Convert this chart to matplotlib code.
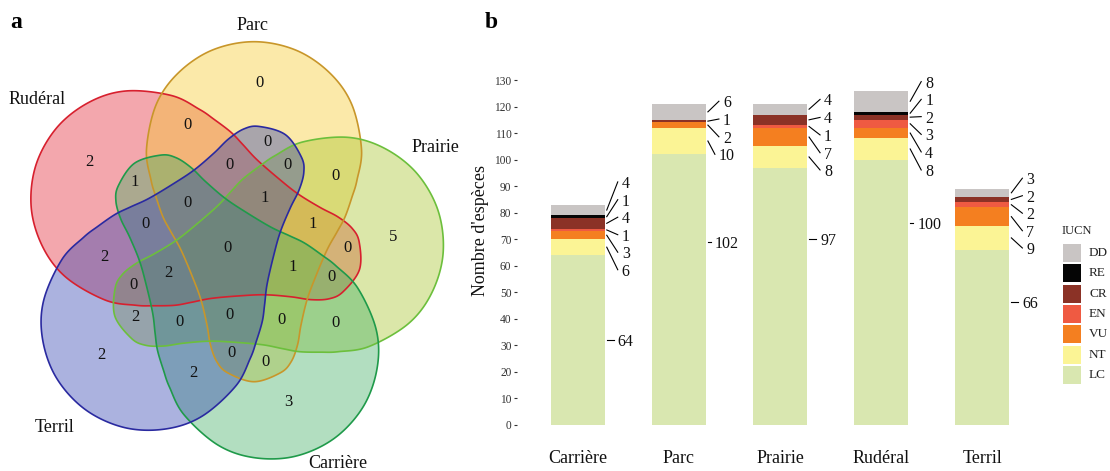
import numpy as np
import matplotlib
matplotlib.use("Agg")
import matplotlib.pyplot as plt
from matplotlib.patches import Polygon, Rectangle

plt.rcParams['font.family'] = ['Liberation Serif', 'DejaVu Serif']

# ---- panneau b : nombre d'especes par statut IUCN ----
sites = ["Carrière", "Parc", "Prairie", "Rudéral", "Terril"]
statuts = ["LC", "NT", "VU", "EN", "CR", "RE", "DD"]   # du bas vers le haut
LC = [64, 102, 97, 100, 66]
NT = [6, 10, 8, 8, 9]
VU = [3, 2, 7, 4, 7]
EN = [1, 0, 1, 3, 2]
CR = [4, 1, 4, 2, 2]
RE = [1, 0, 0, 1, 0]
DD = [4, 6, 4, 8, 3]
valeurs = {"LC": LC, "NT": NT, "VU": VU, "EN": EN, "CR": CR, "RE": RE, "DD": DD}
couleurs = {"LC": "#d9e7b0", "NT": "#fbf495", "VU": "#f47f20", "EN": "#ef5a42",
            "CR": "#8b3226", "RE": "#050505", "DD": "#c9c5c4"}

# hauteur des etiquettes (comme ggrepel), du haut vers le bas
pos_etiquettes = [
    [91.6, 84.9, 78.3, 71.7, 65.1, 58.5, 32],
    [122, 115.3, 108.6, 102, 69],
    [122.7, 115.9, 109.3, 102.6, 96.1, 70],
    [129.4, 122.7, 116.2, 109.5, 102.9, 96.1, 76.2],
    [93, 86.4, 79.8, 73.2, 66.7, 46.5],
]

# ---- panneau a : diagramme de Venn ----
ensembles = ["Parc", "Prairie", "Carrière", "Terril", "Rudéral"]
venn_bord = ["#c8962a", "#6cbf3c", "#1f9a4a", "#2a2aa0", "#d7202e"]
venn_fond = ["#f5c82a", "#a7c52a", "#3fae62", "#2f3fb0", "#e32534"]
venn_n = [0, 0, 2, 0, 0, 0, 1, 0, 0, 1, 0, 1, 0, 2, 0, 5, 2, 1, 0, 0,
          2, 0, 0, 0, 0, 2, 0, 0, 2, 3]
venn_xy = [(259, 83), (188, 125), (89, 162), (267, 142), (230, 165), (287, 165),
           (135, 182), (336, 176), (187, 203), (265, 198), (146, 224), (313, 224),
           (227, 248), (104, 257), (347, 248), (393, 237), (168, 273), (293, 267),
           (133, 285), (331, 277), (135, 317), (180, 322), (230, 315), (281, 320),
           (335, 323), (101, 355), (232, 353), (266, 362), (193, 373), (288, 402)]
noms_xy = [(253, 25), (435, 148), (338, 463), (55, 428), (37, 100)]

# forme de base (Parc), demi-largeur le long de l'axe, en pixels
centre = (229.6, 253.1)
decal = 24.4
profil = [(0, 41.7), (42, 50.2), (76, 73.2), (98, 105), (107.5, 149.2), (103, 180),
          (98, 197), (91, 217), (83, 232), (73, 250), (61.5, 277), (53, 300),
          (47, 325), (43.5, 345), (37, 362), (26, 373), (0, 381.7)]


def catmull(pts, n=24):
    P = np.array(pts, dtype=float)
    N = len(P)
    t = np.linspace(0, 1, n, endpoint=False)[:, None]
    out = []
    for i in range(N):
        p0, p1, p2, p3 = P[i - 1], P[i], P[(i + 1) % N], P[(i + 2) % N]
        out.append(0.5 * (2 * p1 + (-p0 + p2) * t + (2 * p0 - 5 * p1 + 4 * p2 - p3) * t ** 2
                          + (-p0 + 3 * p1 - 3 * p2 + p3) * t ** 3))
    return np.vstack(out)


droite = [(decal + w, y - centre[1]) for w, y in profil]
gauche = [(decal - w, y - centre[1]) for w, y in profil[1:-1]][::-1]
forme = catmull(droite + gauche)


def tourner(k):
    a = np.deg2rad(72 * k)
    x = forme[:, 0] * np.cos(a) - forme[:, 1] * np.sin(a) + centre[0]
    y = forme[:, 0] * np.sin(a) + forme[:, 1] * np.cos(a) + centre[1]
    return np.column_stack([x, y])


fig = plt.figure(figsize=(11.1, 4.71), dpi=100)
W, H = 1110, 471

axv = fig.add_axes([0, 0, 480 / W, 1])
axv.set_xlim(0, 480)
axv.set_ylim(H, 0)
axv.axis("off")

ordre = [4, 0, 1, 2, 3]
for z, k in enumerate(ordre):
    axv.add_patch(Polygon(tourner(k), closed=True, facecolor=venn_fond[k], alpha=0.4,
                          edgecolor="none", zorder=1 + z))
for k in ordre:
    axv.add_patch(Polygon(tourner(k), closed=True, facecolor="none",
                          edgecolor=venn_bord[k], lw=1.2, zorder=10))
for (x, y), n in zip(venn_xy, venn_n):
    axv.text(x, y, str(n), ha="center", va="center", fontsize=12, color="#111111", zorder=11)
for (x, y), nom in zip(noms_xy, ensembles):
    axv.text(x, y, nom, ha="center", va="center", fontsize=13, color="#111111")

# ---- barres empilees ----
left, right, top, bottom = 517, 1043, 20.3, 441.7
ax = fig.add_axes([left / W, (H - bottom) / H, (right - left) / W, (bottom - top) / H])
x = np.arange(1, len(sites) + 1)
larg = 0.535
base = np.zeros(len(sites))
for s in statuts:
    v = np.array(valeurs[s], dtype=float)
    ax.bar(x, v, bottom=base, width=larg, color=couleurs[s], linewidth=0)
    base += v

px = (right - left) / 5.2
for i in range(len(sites)):
    cumul = 0
    segs = []
    for s in statuts:
        v = valeurs[s][i]
        if v > 0:
            segs.append((s, v, cumul + v / 2))
        cumul += v
    segs = segs[::-1]
    bord = x[i] + larg / 2
    xl = bord + 21 / px
    for (s, v, mid), ye in zip(segs, pos_etiquettes[i]):
        txt = str(v)
        y0 = ye if s == "LC" else mid
        x1 = xl - (4 * len(txt) + 4) / px
        ax.plot([bord + 2 / px, x1], [y0, ye], color="black", lw=0.8)
        ax.text(xl, ye, txt, ha="center", va="center_baseline", fontsize=11.5, color="#111111")

ax.set_xlim(0.4, 5.6)
ax.set_ylim(-6.3, 152.5)
ax.set_yticks(range(0, 131, 10))
ax.set_xticks(x)
ax.set_xticklabels(sites, fontsize=13, color="#111111")
ax.tick_params(axis="x", length=0, pad=6)
ax.tick_params(axis="y", length=2.5, width=0.8, color="#333333", labelsize=8.3,
               labelcolor="#333333", pad=1.5)
for sp in ax.spines.values():
    sp.set_visible(False)
ax.set_ylabel("Nombre d'espèces", fontsize=13, labelpad=4, color="#111111")

# ---- legende et lettres ----
axo = fig.add_axes([0, 0, 1, 1], zorder=20)
axo.set_xlim(0, W)
axo.set_ylim(H, 0)
axo.axis("off")
axo.text(1062, 231, "IUCN", ha="left", va="center", fontsize=9, color="#222222")
for j, s in enumerate(statuts[::-1]):
    y0 = 244 + j * 20.3
    axo.add_patch(Rectangle((1063, y0), 17.5, 18, facecolor=couleurs[s], edgecolor="none"))
    axo.text(1089, y0 + 9, s, ha="left", va="center", fontsize=9.5, color="#222222")
axo.text(16, 22, "a", ha="center", va="center", fontsize=17, fontweight="bold")
axo.text(491, 22, "b", ha="center", va="center", fontsize=17, fontweight="bold")

fig.savefig("out.png", dpi=100)
